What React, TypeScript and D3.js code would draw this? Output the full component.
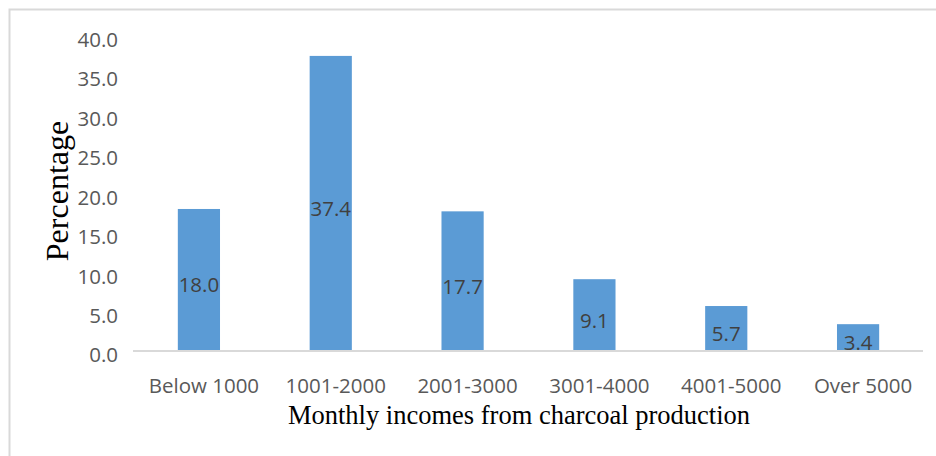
import React from "react";
import * as d3 from "d3";

// Monthly income brackets and share of respondents (%)
const categories = ["Below 1000", "1001-2000", "2001-3000", "3001-4000", "4001-5000", "Over 5000"];
const percentages = [18.0, 37.4, 17.7, 9.1, 5.7, 3.4];
const yTicks = [0, 5, 10, 15, 20, 25, 30, 35, 40];

const W = 936;
const H = 456;
const plot = { left: 133, right: 924, top: 35.4, bottom: 351 };

export default function App() {
  const x = d3
    .scaleBand<string>()
    .domain(categories)
    .range([plot.left, plot.right])
    .paddingInner(0.68)
    .paddingOuter(0.34);
  const y = d3.scaleLinear().domain([0, 40]).range([plot.bottom, plot.top]);
  const fmt = d3.format(".1f");

  const tickFont = "'Open Sans', 'Noto Sans', sans-serif";
  const serif = "'Liberation Serif', 'Times New Roman', serif";

  return (
    <svg
      width={W}
      height={H}
      viewBox={`0 0 ${W} ${H}`}
      style={{ position: "absolute", left: 0, top: 0, background: "#fff" }}
    >
      <rect x={0} y={0} width={W} height={H} fill="#fff" />
      {/* chart frame */}
      <rect x={9.5} y={9.5} width={W + 20} height={H + 20} fill="none" stroke="#d9d9d9" strokeWidth={2} />

      {/* y tick labels */}
      {yTicks.map((t) => (
        <text
          key={t}
          x={118}
          y={y(t) + 6}
          textAnchor="end"
          dominantBaseline="middle"
          fontFamily={tickFont}
          fontSize={20.5}
          fill="#595959"
        >
          {fmt(t)}
        </text>
      ))}

      {/* bars */}
      {categories.map((c, i) => (
        <rect
          key={c}
          x={x(c)}
          y={y(percentages[i])}
          width={x.bandwidth()}
          height={y(0) - y(percentages[i])}
          fill="#5B9BD5"
        />
      ))}

      {/* baseline */}
      <line x1={plot.left} x2={plot.right - 1} y1={y(0)} y2={y(0)} stroke="#d9d9d9" strokeWidth={2} />

      {/* value labels */}
      {categories.map((c, i) => (
        <text
          key={c}
          x={(x(c) ?? 0) + x.bandwidth() / 2}
          y={(y(percentages[i]) + y(0)) / 2 + 7}
          textAnchor="middle"
          dominantBaseline="middle"
          fontFamily={tickFont}
          fontSize={20.5}
          fill="#404040"
        >
          {fmt(percentages[i])}
        </text>
      ))}

      {/* category labels */}
      {categories.map((c) => (
        <text
          key={c}
          x={(x(c) ?? 0) + x.bandwidth() / 2 + 5}
          y={393}
          textAnchor="middle"
          fontFamily={tickFont}
          fontSize={20.5}
          fill="#595959"
        >
          {c}
        </text>
      ))}

      {/* axis titles */}
      <text x={519} y={424} textAnchor="middle" fontFamily={serif} fontSize={26.5} fill="#000">
        Monthly incomes from charcoal production
      </text>
      <text
        transform={`translate(68, 191) rotate(-90)`}
        textAnchor="middle"
        fontFamily={serif}
        fontSize={32}
        fill="#000"
      >
        Percentage
      </text>
    </svg>
  );
}
